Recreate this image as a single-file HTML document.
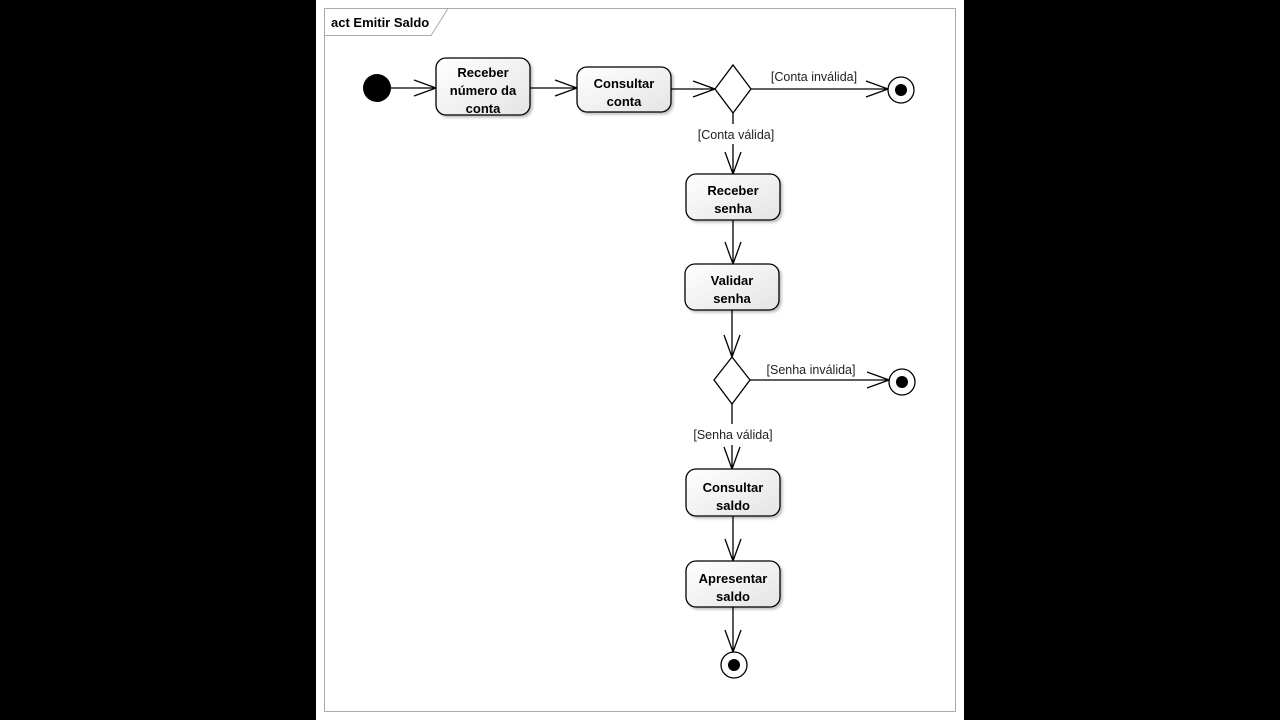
<!DOCTYPE html>
<html><head><meta charset="utf-8"><style>
body{margin:0;background:#000;width:1280px;height:720px;overflow:hidden}
svg{position:absolute;left:0;top:0}
text{font-family:"Liberation Sans",sans-serif}
.b{font-weight:bold;font-size:13px;fill:#000;text-anchor:middle}
.l{font-size:12.5px;fill:#222;text-anchor:middle}
</style></head><body>
<svg width="1280" height="720" viewBox="0 0 1280 720">
<defs>
<linearGradient id="g" x1="0" y1="0" x2="1" y2="1"><stop offset="0" stop-color="#fff"/><stop offset="1" stop-color="#e4e4e4"/></linearGradient>
<filter id="s" x="-10%" y="-10%" width="130%" height="130%"><feDropShadow dx="2" dy="2" stdDeviation="1.2" flood-color="#000" flood-opacity="0.25"/></filter>
</defs>
<rect x="316" y="0" width="648" height="720" fill="#fff"/>
<rect x="324.5" y="8.5" width="631" height="703" fill="none" stroke="#aaa"/>
<path d="M324.5 35.5 H431 L448 8.5" fill="none" stroke="#aaa"/>
<text x="331" y="27" style="font-weight:bold;font-size:13px">act Emitir Saldo</text>
<g stroke="#000" stroke-width="1.3" fill="none">
<!-- lines -->
<path d="M391 88H436 M414 80L436 88L414 96"/>
<path d="M530 88H577 M555 80L577 88L555 96"/>
<path d="M671 89H715 M693 81L715 89L693 97"/>
<path d="M751 89H888 M866 81L888 89L866 97"/>
<path d="M733 113V124 M733 144V174 M725 152L733 174L741 152"/>
<path d="M733 220V264 M725 242L733 264L741 242"/>
<path d="M732 310V357 M724 335L732 357L740 335"/>
<path d="M750 380H889 M867 372L889 380L867 388"/>
<path d="M732 404V424 M732 445V469 M724 447L732 469L740 447"/>
<path d="M733 516V561 M725 539L733 561L741 539"/>
<path d="M733 607V652 M725 630L733 652L741 630"/>
</g>
<circle cx="377" cy="88" r="14" fill="#000"/>
<g stroke="#000" stroke-width="1.3" fill="url(#g)" filter="url(#s)">
<rect x="436" y="58" width="94" height="57" rx="10"/>
<rect x="577" y="67" width="94" height="45" rx="10"/>
<rect x="686" y="174" width="94" height="46" rx="10"/>
<rect x="685" y="264" width="94" height="46" rx="10"/>
<rect x="686" y="469" width="94" height="47" rx="10"/>
<rect x="686" y="561" width="94" height="46" rx="10"/>
</g>
<g stroke="#000" stroke-width="1.3" fill="#fff">
<path d="M733 65L751 89L733 113L715 89Z"/>
<path d="M732 357L750 380L732 404L714 380Z"/>
<circle cx="901" cy="90" r="13"/>
<circle cx="902" cy="382" r="13"/>
<circle cx="734" cy="665" r="13"/>
</g>
<circle cx="901" cy="90" r="6" fill="#000"/>
<circle cx="902" cy="382" r="6" fill="#000"/>
<circle cx="734" cy="665" r="6" fill="#000"/>
<text class="b" x="483" y="77">Receber</text>
<text class="b" x="483" y="95">número da</text>
<text class="b" x="483" y="113">conta</text>
<text class="b" x="624" y="88">Consultar</text>
<text class="b" x="624" y="106">conta</text>
<text class="b" x="733" y="195">Receber</text>
<text class="b" x="733" y="213">senha</text>
<text class="b" x="732" y="285">Validar</text>
<text class="b" x="732" y="303">senha</text>
<text class="b" x="733" y="492">Consultar</text>
<text class="b" x="733" y="510">saldo</text>
<text class="b" x="733" y="583">Apresentar</text>
<text class="b" x="733" y="601">saldo</text>
<text class="l" x="814" y="81">[Conta inválida]</text>
<text class="l" x="736" y="139">[Conta válida]</text>
<text class="l" x="811" y="374">[Senha inválida]</text>
<text class="l" x="733" y="439">[Senha válida]</text>
</svg>
</body></html>
